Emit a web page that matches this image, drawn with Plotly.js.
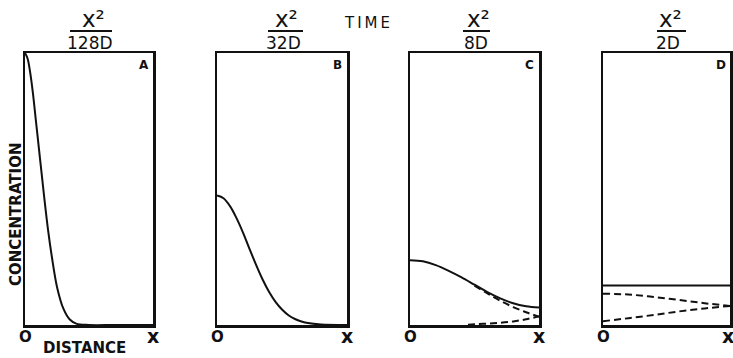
<!DOCTYPE html>
<html>
<head>
<meta charset="utf-8">
<script src="https://cdn.plot.ly/plotly-3.0.1.min.js"></script>
<style>html,body{margin:0;padding:0;background:#fff;}#chart{width:733px;height:358px;}</style>
</head>
<body>
<div id="chart"></div>
<script>
// Distance as fraction of X, concentration relative to initial surface peak
const panelLetters = ["A", "B", "C", "D"];
const timeDenominators = ["128D", "32D", "8D", "2D"];

const xA = [0, 0.02, 0.04, 0.06, 0.09, 0.12, 0.15, 0.18, 0.21, 0.25, 0.3, 0.35, 0.4, 0.5, 0.7, 1.0];
const cA = [1.0, 0.98, 0.93, 0.86, 0.73, 0.6, 0.47, 0.35, 0.25, 0.14, 0.06, 0.02, 0.005, 0, 0, 0];

const xB = [0, 0.05, 0.1, 0.15, 0.2, 0.25, 0.3, 0.35, 0.4, 0.45, 0.5, 0.55, 0.6, 0.65, 0.7, 0.8, 1.0];
const cB = [0.476, 0.466, 0.437, 0.393, 0.34, 0.28, 0.222, 0.168, 0.122, 0.085, 0.057, 0.036, 0.022, 0.013, 0.007, 0.002, 0];

const xC = [0, 0.1, 0.2, 0.3, 0.4, 0.5, 0.6, 0.7, 0.8, 0.9, 1.0];
const cC = [0.238, 0.234, 0.22, 0.199, 0.175, 0.148, 0.121, 0.098, 0.08, 0.069, 0.064];
const xCdirect = [0.5, 0.6, 0.7, 0.8, 0.9, 1.0];
const cCdirect = [0.145, 0.116, 0.089, 0.066, 0.047, 0.030];
const xCreflect = [0.45, 0.5, 0.6, 0.7, 0.8, 0.9, 1.0];
const cCreflect = [0.001, 0.003, 0.005, 0.008, 0.013, 0.021, 0.032];

const xD = [0, 0.2, 0.4, 0.6, 0.8, 1.0];
const cD = [0.145, 0.145, 0.145, 0.145, 0.145, 0.145];
const xDdirect = [0, 0.2, 0.4, 0.6, 0.8, 1.0];
const cDdirect = [0.115, 0.112, 0.103, 0.092, 0.08, 0.07];
const xDreflect = [0, 0.2, 0.4, 0.6, 0.8, 1.0];
const cDreflect = [0.014, 0.025, 0.037, 0.05, 0.061, 0.07];

const W = 733, H = 358;
const px = v => v / W;
const py = v => 1 - v / H;

const solid = {color: "#111", width: 2, shape: "spline", smoothing: 1};
const dashed = {color: "#111", width: 2, dash: "7px,4px", shape: "spline", smoothing: 1};

const traces = [
  {x: xA, y: cA, xaxis: "x", yaxis: "y", mode: "lines", line: solid},
  {x: xB, y: cB, xaxis: "x2", yaxis: "y2", mode: "lines", line: solid},
  {x: xCdirect, y: cCdirect, xaxis: "x3", yaxis: "y3", mode: "lines", line: dashed},
  {x: xCreflect, y: cCreflect, xaxis: "x3", yaxis: "y3", mode: "lines", line: dashed},
  {x: xC, y: cC, xaxis: "x3", yaxis: "y3", mode: "lines", line: solid},
  {x: xDdirect, y: cDdirect, xaxis: "x4", yaxis: "y4", mode: "lines", line: dashed},
  {x: xDreflect, y: cDreflect, xaxis: "x4", yaxis: "y4", mode: "lines", line: dashed},
  {x: xD, y: cD, xaxis: "x4", yaxis: "y4", mode: "lines", line: solid}
];

const panelsPx = [[25, 153], [217, 347], [410, 539], [603, 730]];
const yDom = [py(325), py(53)];

const layout = {
  width: W, height: H,
  margin: {l: 0, r: 0, t: 0, b: 0},
  paper_bgcolor: "#fff", plot_bgcolor: "#fff",
  showlegend: false,
  font: {family: "DejaVu Sans", color: "#111"},
  annotations: [],
  shapes: []
};

function ann(o) {
  return Object.assign({showarrow: false, xanchor: "center", yanchor: "middle"}, o);
}

const axName = i => (i === 0 ? "" : String(i + 1));
panelsPx.forEach((p, i) => {
  const common = {range: [0, 1], showgrid: false, zeroline: false, showticklabels: false,
    ticks: "", showline: true, mirror: true, linecolor: "#111", linewidth: 2.5, fixedrange: true};
  layout["xaxis" + axName(i)] = Object.assign({}, common, {domain: [px(p[0]), px(p[1])], anchor: "y" + axName(i)});
  layout["yaxis" + axName(i)] = Object.assign({}, common, {domain: yDom, anchor: "x" + axName(i)});
  const xr = "x" + axName(i), yr = "y" + axName(i);
  // corner letter
  layout.annotations.push(ann({xref: xr, yref: yr, x: 0.93, y: 0.955, text: panelLetters[i],
    font: {size: 12, family: "DejaVu Sans", weight: "bold"}}));
  // O and x under axis ends
  layout.annotations.push(ann({xref: xr, yref: "paper", x: 0, y: py(337), text: "O",
    font: {size: 15, family: "DejaVu Sans", weight: "bold"}}));
  layout.annotations.push(ann({xref: xr, yref: "paper", x: i === 3 ? 0.985 : 1, y: py(336), text: "x",
    font: {size: 19, family: "DejaVu Sans", weight: "bold"}}));
  // time fraction
  const cx = (p[0] + p[1]) / 2;
  layout.annotations.push(ann({xref: "paper", yref: "paper", x: px(cx + 4), y: py(19), text: "x\u00B2",
    font: {size: 23, family: "DejaVu Sans"}}));
  layout.annotations.push(ann({xref: "paper", yref: "paper", x: px(cx + 1), y: py(43), text: timeDenominators[i],
    font: {size: 17, family: "DejaVu Sans"}}));
});

// fraction bars
[[70, 112], [268, 303], [463, 490], [657, 686]].forEach(b => {
  layout.shapes.push({type: "line", xref: "paper", yref: "paper", x0: px(b[0]), x1: px(b[1]),
    y0: py(31), y1: py(31), line: {color: "#111", width: 2}});
});

layout.annotations.push(ann({xref: "paper", yref: "paper", x: px(367), y: py(23), text: "T\u2009I\u2009M\u2009E",
  font: {size: 15, family: "DejaVu Sans"}}));
layout.annotations.push(ann({xref: "paper", yref: "paper", x: px(16), y: py(215), text: "CONCENTRATION",
  textangle: -90, font: {size: 15, family: "DejaVu Sans", weight: "bold"}}));
layout.annotations.push(ann({xref: "paper", yref: "paper", x: px(84), y: py(348), text: "DISTANCE",
  font: {size: 15, family: "DejaVu Sans", weight: "bold"}}));

Plotly.newPlot("chart", traces, layout, {staticPlot: true, displayModeBar: false});
</script>
</body>
</html>
